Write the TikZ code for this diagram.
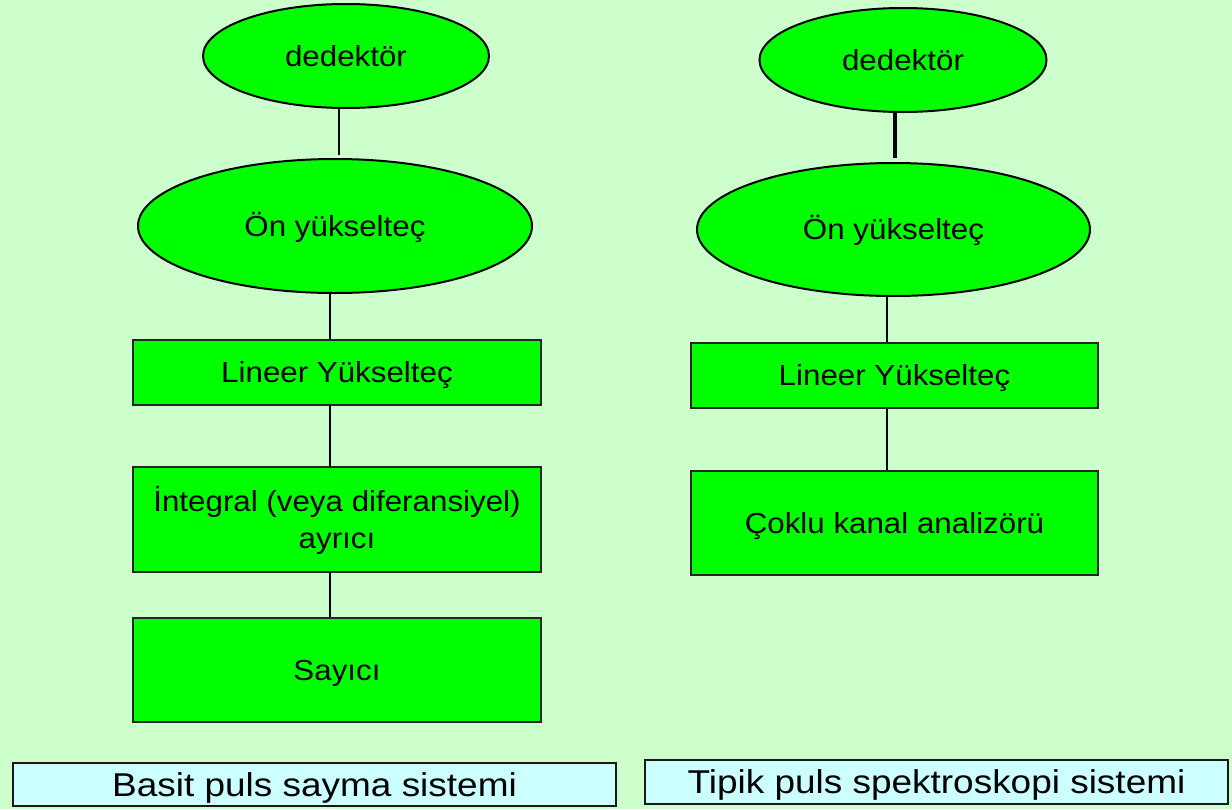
\documentclass[tikz,border=0pt]{standalone}
\usepackage{fontspec}
\setmainfont{Liberation Sans}
\newfontfamily\boxfont[FakeStretch=1.08]{Liberation Sans}
\newfontfamily\labfont[FakeStretch=1.12]{Liberation Sans}
\usetikzlibrary{shapes.geometric,calc}
\definecolor{bgc}{HTML}{CCFFCC}
\definecolor{boxc}{HTML}{00FF00}
\definecolor{labc}{HTML}{CCFFFF}
\begin{document}
\begin{tikzpicture}[x=1pt,y=-1pt,
  oval/.style={ellipse,draw=black,line width=2pt,fill=boxc,inner sep=0pt,
    font=\boxfont\fontsize{29}{36.7}\selectfont,text height=20.8pt,text depth=0pt},
  blk/.style={rectangle,draw=black!85,line width=2pt,fill=boxc,inner sep=0pt,
    minimum width=408pt,font=\boxfont\fontsize{29}{36.7}\selectfont,
    text height=20.8pt,text depth=0pt,align=center},
  lab/.style={rectangle,draw=black!90,line width=2pt,fill=labc,inner sep=0pt,
    font=\labfont\fontsize{33}{40}\selectfont,text height=23.6pt,text depth=0pt},
  conn/.style={line width=2pt,draw=black}]
\fill[bgc] (0,0) rectangle (1232,809);
\useasboundingbox (0,0) rectangle (1232,809);

% left column
\node[oval,minimum width=286pt,minimum height=104pt] (d1) at (346,56) {dedektör};
\node[oval,minimum width=394pt,minimum height=134pt] (o1) at (335,226) {Ön yükselteç};
\node[blk,minimum height=65pt] (l1) at (337,372.5) {Lineer Yükselteç};
\node[blk,minimum height=105pt,text height=57.5pt] (i1) at (337,519.5) {İntegral (veya diferansiyel)\\ayrıcı};
\node[blk,minimum height=104pt] (s1) at (337,670) {Sayıcı};

% right column
\node[oval,minimum width=287pt,minimum height=104pt] (d2) at (903,60) {dedektör};
\node[oval,minimum width=393pt,minimum height=133pt] (o2) at (893.5,229.5) {Ön yükselteç};
\node[blk,minimum height=65pt,minimum width=407pt] (l2) at (894.5,375.5) {Lineer Yükselteç};
\node[blk,minimum height=104pt,minimum width=407pt] (c2) at (894.5,523) {Çoklu kanal analizörü};

% labels
\node[lab,minimum width=603pt,minimum height=43pt] (b1) at (314.5,784.5) {Basit puls sayma sistemi};
\node[lab,minimum width=583pt,minimum height=44pt] (b2) at (936.5,782) {Tipik puls spektroskopi sistemi};

% connectors
\draw[conn] ([xshift=-7pt]d1.south) -- ([xshift=-7pt,yshift=3pt]d1.south |- o1.north);
\draw[conn] ([xshift=-5pt]o1.south) -- ([xshift=-5pt]o1.south |- l1.north);
\draw[conn] ([xshift=-7pt]l1.south) -- ([xshift=-7pt]i1.north);
\draw[conn] ([xshift=-7pt]i1.south) -- ([xshift=-7pt]s1.north);

\draw[conn,line width=3.5pt] ([xshift=-8pt]d2.south) -- ([xshift=-8pt,yshift=4pt]d2.south |- o2.north);
\draw[conn] ([xshift=-6.5pt]o2.south) -- ([xshift=-6.5pt]o2.south |- l2.north);
\draw[conn] ([xshift=-7.5pt]l2.south) -- ([xshift=-7.5pt]c2.north);
\end{tikzpicture}
\end{document}
